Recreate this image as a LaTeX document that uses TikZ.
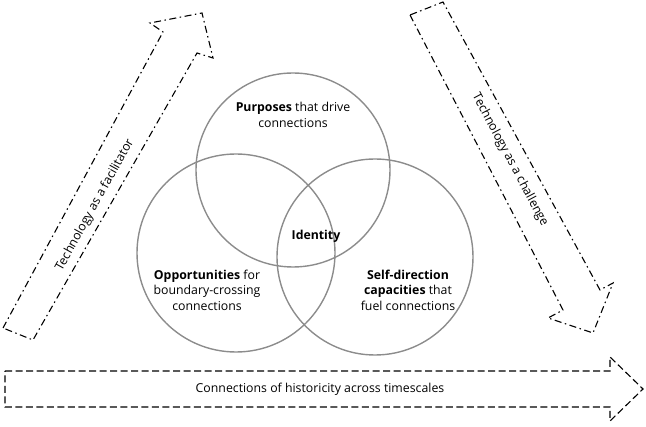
\documentclass[tikz,border=0pt]{standalone}
\usepackage{fontspec}
\setmainfont{Open Sans}
\begin{document}
\begin{tikzpicture}[x=1pt, y=-1pt]
\tikzset{
  ring/.style={draw=black!45, line width=1.4pt},
  label/.style={align=center, font=\fontsize{12.3}{15.5}\selectfont},
  dashdot/.style={draw, line width=1.1pt, dash pattern=on 7pt off 3.5pt on 1.5pt off 3.5pt},
  dashed arrow/.style={draw, line width=1.1pt, dash pattern=on 7pt off 3.5pt}
}
\useasboundingbox (0,0) rectangle (646,427);
%\draw[step=50, black!20] (0,0) grid (646,427);
    \coordinate (cPurp) at (293,170);
    \coordinate (cOpp) at (236,253);
    \coordinate (cSelf) at (375,257);
    \draw[ring] (cPurp) circle (97);
    \draw[ring] (cOpp) circle (99);
    \draw[ring] (cSelf) circle (98);
    \node[label] (purp) at (293,115) {\textbf{Purposes} that drive\\connections};
    \node[label] (ident) at (316,236) {\textbf{Identity}};
    \node[label] (opp) at (207,290) {\textbf{Opportunities} for\\boundary-crossing\\connections};
    \node[label] (self) at (408,290) {\textbf{Self-direction}\\\textbf{capacities} that\\fuel connections};
% arrows
    \draw[dashdot] (3,328) -- (163,32) -- (150,23) -- (202,13) -- (213,58) -- (197,53) -- (33,340) -- cycle;
    \draw[dashdot] (410,15) -- (563,310) -- (548,318) -- (593,333) -- (613,283) -- (600,290) -- (443,2) -- cycle;
    \draw[dashed arrow] (5,371) -- (610,371) -- (610,357) -- (643,389) -- (610,421) -- (610,407) -- (5,407) -- cycle;
    \node[label, rotate=61] (facil) at (95,205) {Technology as a facilitator};
    \node[label, rotate=-62] (chall) at (510,160) {Technology as a challenge};
    \node[label] (hist) at (320,389) {Connections of historicity across timescales};
\end{tikzpicture}
\end{document}
